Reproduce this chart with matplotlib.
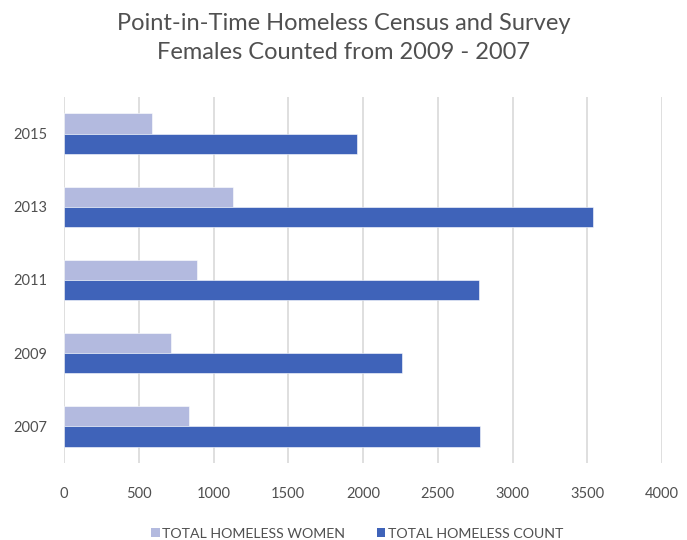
import matplotlib
matplotlib.use("Agg")
import matplotlib.pyplot as plt
from matplotlib.patches import Patch
import numpy as np

plt.rcParams['font.family'] = ['Lato', 'DejaVu Sans']

years = ["2007", "2009", "2011", "2013", "2015"]
women = [838, 718, 888, 1130, 586]
total = [2784, 2264, 2775, 3536, 1963]
series_names = ["TOTAL HOMELESS WOMEN", "TOTAL HOMELESS COUNT"]
xticks = [0, 500, 1000, 1500, 2000, 2500, 3000, 3500, 4000]

light = "#B3BADF"
dark = "#3F63B9"
textc = "#505050"

fig = plt.figure(figsize=(6.87, 5.4), dpi=100)
ax = fig.add_axes([0.0932, 0.1426, 0.8704, 0.6778])

y = np.arange(len(years))
h = 0.275
ax.barh(y + h / 2, women, height=h, color=light, edgecolor="white", linewidth=0.4, zorder=3)
ax.barh(y - h / 2, total, height=h, color=dark, edgecolor="white", linewidth=0.4, zorder=3)

ax.set_xlim(0, 4000)
ax.set_ylim(-0.5, 4.5)
ax.set_xticks(xticks)
ax.set_xticklabels([str(v) for v in xticks], fontsize=10.5, color=textc)
ax.set_yticks(y)
ax.set_yticklabels(years, fontsize=10.5, color=textc)
ax.tick_params(length=0, pad=17, axis="x")
ax.tick_params(length=0, pad=12, axis="y")
ax.xaxis.grid(True, color="#D9D9D9", linewidth=1.2, zorder=0)
for s in ax.spines.values():
    s.set_visible(False)

fig.text(0.5, 0.957, "Point-in-Time Homeless Census and Survey", ha="center", va="center",
         fontsize=17, color=textc)
fig.text(0.5, 0.902, "Females Counted from 2009 - 2007", ha="center", va="center",
         fontsize=17, color=textc)

handles = [Patch(facecolor=light, label=series_names[0]), Patch(facecolor=dark, label=series_names[1])]
fig.legend(handles=handles, loc="center", bbox_to_anchor=(0.52, 0.012), ncol=2, frameon=False,
           fontsize=10.2, labelcolor=textc, handlelength=0.6, handleheight=0.6, handletextpad=0.2,
           columnspacing=2.2)

fig.savefig("out.png", dpi=100)
